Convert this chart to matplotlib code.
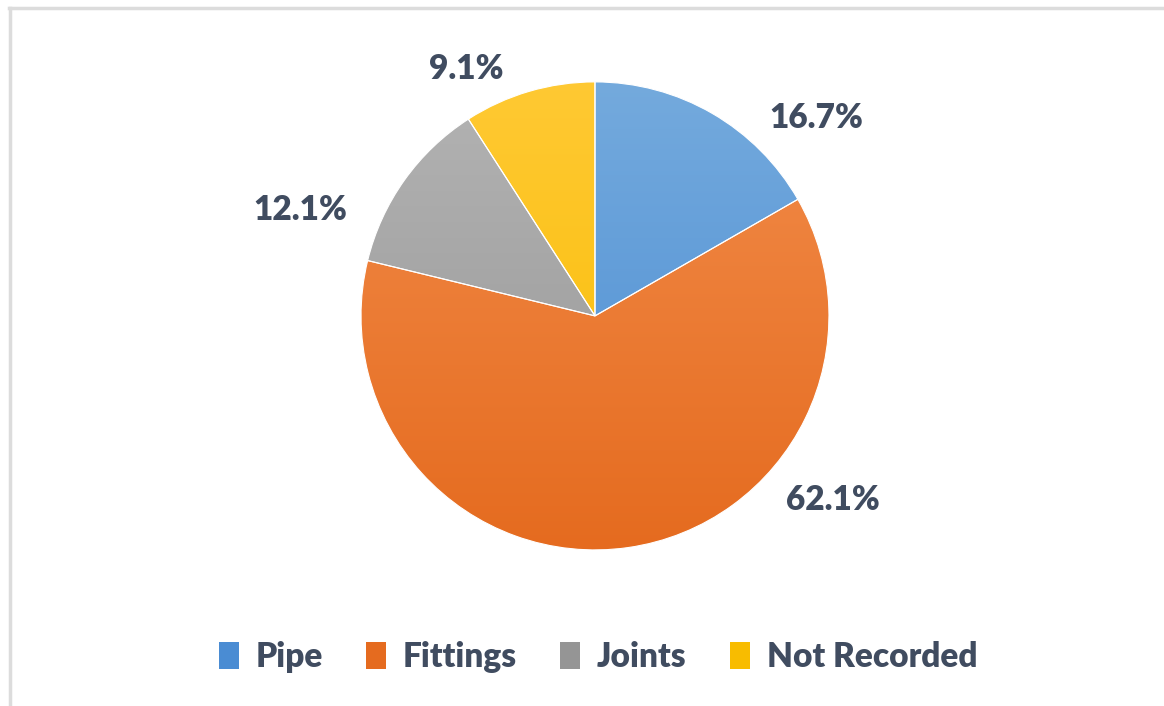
import numpy as np
import matplotlib.pyplot as plt
from matplotlib.colors import LinearSegmentedColormap
from matplotlib.patches import Patch

categories = ['Pipe', 'Fittings', 'Joints', 'Not Recorded']
shares = [16.7, 62.1, 12.1, 9.1]
labels = ['16.7%', '62.1%', '12.1%', '9.1%']

# light (top) and dark (bottom) shade for each slice
top_colors = ['#74AADD', '#F28C4A', '#B3B3B3', '#FFC933']
bottom_colors = ['#4A8CD3', '#E56B1F', '#959595', '#F8BC00']
label_pos = [(0.944, 0.846), (1.017, -0.786), (-1.261, 0.453), (-0.551, 1.056)]

text_color = '#404C60'
font = 'Lato'

fig = plt.figure(figsize=(11.64, 7.06), dpi=100)
ax = fig.add_axes([0, 0, 1, 1])

wedges, _ = ax.pie(shares, startangle=90, counterclock=False, radius=1.0,
                   center=(0, 0), colors=top_colors,
                   wedgeprops=dict(edgecolor='white', linewidth=0.8))

# vertical gradient fill clipped to each wedge
grad = np.linspace(0, 1, 256).reshape(-1, 1)
for w, c1, c2 in zip(wedges, top_colors, bottom_colors):
    cmap = LinearSegmentedColormap.from_list('g', [c1, c2])
    im = ax.imshow(grad, cmap=cmap, extent=(-1, 1, -1, 1), origin='upper',
                   aspect='auto', zorder=w.get_zorder() + 0.1)
    im.set_clip_path(w)
    w.set_facecolor('none')
    w.set_zorder(w.get_zorder() + 0.2)

for (x, y), t in zip(label_pos, labels):
    ax.text(x, y, t, ha='center', va='center', fontsize=24,
            fontweight='heavy', color=text_color, family=font)

ax.set_xlim(-2.543, 2.432)
ax.set_ylim(-1.667, 1.350)
ax.set_aspect('auto')
ax.axis('off')

handles = [Patch(facecolor=c) for c in bottom_colors]
leg = ax.legend(handles, categories, loc='center', ncol=4, frameon=False,
                bbox_to_anchor=(598 / 1164, 1 - 657 / 706),
                handlelength=0.6, handleheight=0.85, handletextpad=0.5,
                columnspacing=1.3, prop=dict(family=font, weight='heavy', size=24))
for t in leg.get_texts():
    t.set_color(text_color)

# light chart frame on top and left
fig.add_artist(plt.Line2D([9 / 1164, 1], [1 - 7.5 / 706] * 2, color='#DCDCDC',
                          lw=2.5, transform=fig.transFigure))
fig.add_artist(plt.Line2D([9.5 / 1164] * 2, [0, 1 - 7.5 / 706], color='#DCDCDC',
                          lw=2.5, transform=fig.transFigure))

fig.savefig('out.png', dpi=100, facecolor='white')
